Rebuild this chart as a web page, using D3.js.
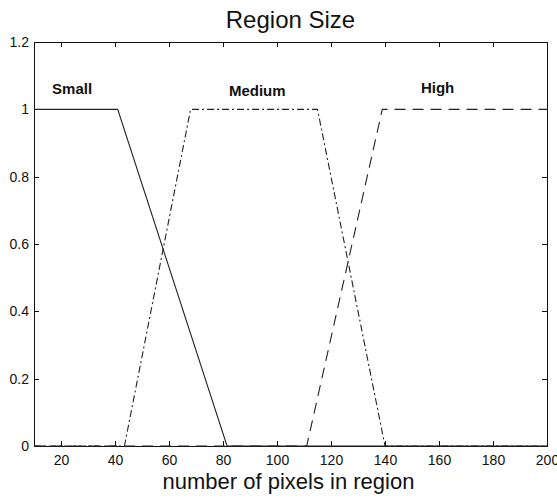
<!DOCTYPE html>
<meta charset="utf-8">
<style>

body {
  margin: 0;
  background-color: white;
  font-family: "Liberation Sans", Arial, sans-serif;
}

.axis path, .axis line {
  stroke: #111;
  stroke-width: 1px;
  shape-rendering: crispEdges;
}

.axis text {
  font-family: "Liberation Sans Narrow", "Liberation Sans", Arial, sans-serif;
  font-size: 14px;
  fill: #111;
}

path.curve {
  fill: none;
  stroke: #222;
  stroke-width: 1.1px;
}

</style>
<body>
<div id="chart"></div>
<script src="https://d3js.org/d3.v7.min.js"></script>
<script>

// membership functions, breakpoints
var smallX = [10, 41, 81.5, 200];
var smallY = [1, 1, 0, 0];
var mediumX = [10, 43.5, 68, 115, 140, 200];
var mediumY = [0, 0, 1, 1, 0, 0];
var highX = [10, 111, 139, 200];
var highY = [0, 0, 1, 1];

var xTicks = [20, 40, 60, 80, 100, 120, 140, 160, 180, 200];
var yTicks = [0, 0.2, 0.4, 0.6, 0.8, 1, 1.2];

var labelNames = ["Small", "Medium", "High"];
var labelX = [16.7, 82.2, 153.3];
var labelY = [1.045, 1.04, 1.05];

var width = 557,
    height = 498,
    margin = {top: 42, right: 10, bottom: 52, left: 34};

var svg = d3.select("#chart")
    .append("svg")
    .attr("width", width)
    .attr("height", height);

var x = d3.scaleLinear()
    .domain([10, 200])
    .range([margin.left, width - margin.right]);

var y = d3.scaleLinear()
    .domain([0, 1.2])
    .range([height - margin.bottom, margin.top]);

var fmt = function(d) { return String(+d.toFixed(1)); };

// box with inward ticks, like matlab
svg.append("g")
    .attr("class", "axis")
    .attr("transform", "translate(0," + y(0) + ")")
    .call(d3.axisBottom(x).tickValues(xTicks).tickSizeInner(-5).tickSizeOuter(0).tickPadding(9).tickFormat(fmt));

svg.append("g")
    .attr("class", "axis")
    .attr("transform", "translate(0," + y(1.2) + ")")
    .call(d3.axisTop(x).tickValues(xTicks).tickSizeInner(-5).tickSizeOuter(0).tickFormat(""));

svg.append("g")
    .attr("class", "axis")
    .attr("transform", "translate(" + x(10) + ",0)")
    .call(d3.axisLeft(y).tickValues(yTicks).tickSizeInner(-5).tickSizeOuter(0).tickPadding(5).tickFormat(fmt));

svg.append("g")
    .attr("class", "axis")
    .attr("transform", "translate(" + x(200) + ",0)")
    .call(d3.axisRight(y).tickValues(yTicks).tickSizeInner(-5).tickSizeOuter(0).tickFormat(""));

var line = d3.line()
    .x(function(d) { return x(d[0]); })
    .y(function(d) { return y(d[1]); });

function pairs(xs, ys) {
    return xs.map(function(v, i) { return [v, ys[i]]; });
}

svg.append("path")
    .attr("class", "curve")
    .attr("d", line(pairs(smallX, smallY)));

svg.append("path")
    .attr("class", "curve")
    .attr("stroke-dasharray", "7,3,2,3")
    .attr("d", line(pairs(mediumX, mediumY)));

svg.append("path")
    .attr("class", "curve")
    .attr("stroke-dasharray", "11,7")
    .attr("d", line(pairs(highX, highY)));

svg.selectAll("text.lbl")
    .data(labelNames)
    .enter()
    .append("text")
    .attr("class", "lbl")
    .attr("x", function(d, i) { return x(labelX[i]); })
    .attr("y", function(d, i) { return y(labelY[i]); })
    .style("font-size", "15px")
    .style("font-weight", "bold")
    .style("fill", "#111")
    .text(function(d) { return d; });

svg.append("text")
    .attr("x", (x(10) + x(200)) / 2)
    .attr("y", 28)
    .attr("text-anchor", "middle")
    .style("font-size", "24px")
    .style("fill", "#111")
    .text("Region Size");

svg.append("text")
    .attr("x", (x(10) + x(200)) / 2 - 2)
    .attr("y", 489)
    .attr("text-anchor", "middle")
    .style("font-size", "22px")
    .style("fill", "#111")
    .text("number of pixels in region");

</script>
</body>
